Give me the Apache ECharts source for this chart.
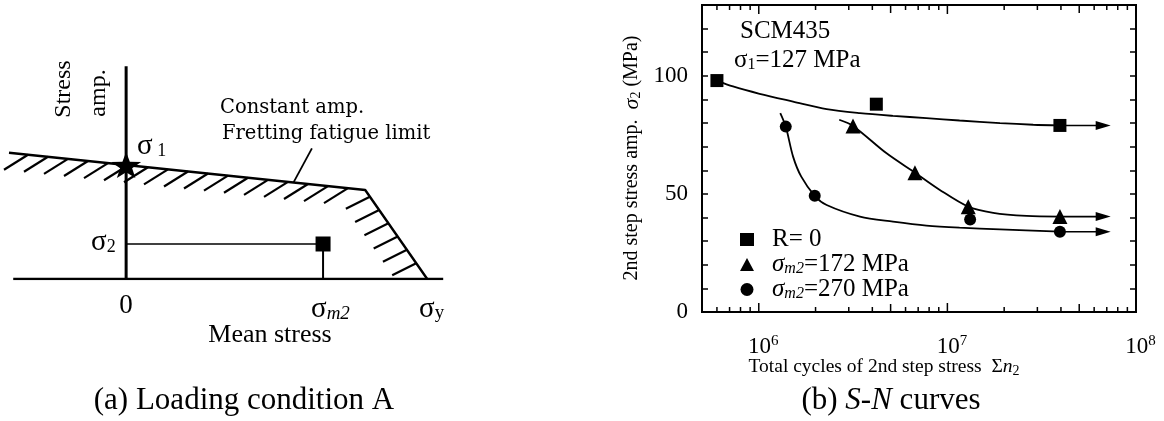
<!DOCTYPE html>
<html><head><meta charset="utf-8">
<script src="https://cdn.jsdelivr.net/npm/echarts@6/dist/echarts.min.js"></script>
<style>html,body{margin:0;padding:0;background:#fff}#c{width:1164px;height:421px}</style>
</head><body><div id="c"></div>
<script>
// ================= Panel (b): S-N curves =================
// measured points
const cyclesR0   = [6.0e5, 4.2e6, 3.95e7];
const ampR0      = [98, 88, 79];
const cyclesM172 = [3.16e6, 6.73e6, 1.29e7, 3.95e7];
const ampM172    = [78.8, 59, 44.6, 40.4];
const cyclesM270 = [1.39e6, 1.98e6, 1.32e7, 3.95e7];
const ampM270    = [78.5, 49.2, 39.2, 34];
// fitted curves
const curveR0N   = [6.0e5, 7.3e5, 1.01e6, 1.52e6, 2.29e6, 3.44e6, 5.15e6, 7.74e6, 1.16e7, 1.9e7, 2.85e7, 3.95e7];
const curveR0S   = [98, 95.5, 92.4, 89.1, 85.9, 84.2, 83.05, 82.1, 81.1, 80.0, 79.3, 79];
const curveM172N = [2.67e6, 3.16e6, 4.76e6, 6.73e6, 9.12e6, 1.29e7, 1.75e7, 2.63e7, 3.95e7];
const curveM172S = [81.4, 78.8, 67.2, 59.0, 51.7, 44.6, 42.0, 40.7, 40.4];
const curveM270N = [1.30e6, 1.39e6, 1.52e6, 1.68e6, 1.98e6, 2.29e6, 3.44e6, 5.15e6, 7.74e6, 1.16e7, 1.9e7, 3.95e7];
const curveM270S = [84.2, 78.5, 65.8, 57.3, 49.2, 45.3, 40.4, 38.3, 36.6, 35.7, 35.0, 34];
// run-out arrows
const arrowFromN = 3.95e7;
const arrowToN   = 6.7e7;
// axis ticks / labels
const xDecades    = [6, 7, 8];
const xMajorTicks = [1e6, 1e7];
const xHalfTicks  = [5e6, 5e7];
const xMinorTicks = [6e5,7e5,8e5,9e5, 2e6,3e6,4e6,6e6,7e6,8e6,9e6, 2e7,3e7,4e7,6e7,7e7,8e7,9e7];
const yLabelValues = [0, 50, 100];
const seriesNames = ['R= 0', 'σm2=172 MPa', 'σm2=270 MPa'];

// ================= Panel (a): loading condition schematic =================
const envelopeMean = [-38.9, 0, 79.4, 100];   // mean stress (σy = 100)
const envelopeAmp  = [140.7, 127, 99.2, 0];    // stress amplitude (σ1 = 127)
const sigma1Point  = [0, 127];
const sigma2Point  = [65.4, 39.0];
const meanAxisMean = [-37.5, 105.3];
const ampAxisAmp   = [0, 237];
const leaderMean   = [55.6, 61.7];
const leaderAmp    = [107.7, 145.6];

const SERIF = 'Liberation Serif';
const zip = (a, b) => a.map((v, i) => [v, b[i]]);

function txt(x, y, text, opt) {
  return Object.assign({type: 'text', x: x, y: y, silent: true,
    style: Object.assign({text: text, fill: '#000', fontFamily: SERIF, fontSize: 20,
      align: 'left', verticalAlign: 'middle'}, opt.style || {})},
    opt.extra || {});
}
const subRich = (size, sub, lh, italicSub) => ({
  s: {fontFamily: SERIF, fontSize: size, lineHeight: lh},
  sub: {fontFamily: SERIF, fontSize: sub, lineHeight: sub, verticalAlign: 'bottom', fontStyle: italicSub ? 'italic' : 'normal'}
});

const BLACK = {color: '#000', opacity: 1};
function curve(N, S) {
  return {type: 'line', xAxisIndex: 0, yAxisIndex: 0, data: zip(N, S), smooth: 0.3,
    showSymbol: false, symbol: 'none', lineStyle: {color: '#000', width: 1.8},
    itemStyle: BLACK, z: 3, silent: true};
}
function arrowShaft(level) {
  return {type: 'line', xAxisIndex: 0, yAxisIndex: 0, data: [[arrowFromN, level], [arrowToN, level]],
    showSymbol: false, symbol: 'none', lineStyle: {color: '#000', width: 1.6}, itemStyle: BLACK, z: 3, silent: true};
}
function markers(name, N, S, sym, size) {
  return {type: 'scatter', name: name, xAxisIndex: 0, yAxisIndex: 0, data: zip(N, S),
    symbol: sym, symbolSize: size, itemStyle: BLACK, z: 5, silent: true};
}
const endLevels = [ampR0[ampR0.length - 1], ampM172[ampM172.length - 1], ampM270[ampM270.length - 1]];

const tickData = [].concat(
  xMajorTicks.map(v => [v, 0, 9]),
  xHalfTicks.map(v => [v, 0, 8]),
  xMinorTicks.map(v => [v, 0, 5]));

const envSegments = envelopeMean.slice(0, -1).map((m, i) =>
  [m, envelopeAmp[i], envelopeMean[i + 1], envelopeAmp[i + 1]]);

const legendRich = {
  t: {fontFamily: SERIF, fontSize: 25, lineHeight: 25},
  i: {fontFamily: SERIF, fontSize: 25, lineHeight: 25, fontStyle: 'italic'},
  sub: {fontFamily: SERIF, fontSize: 16, lineHeight: 16, fontStyle: 'italic', verticalAlign: 'bottom'}
};

const option = {
  animation: false,
  backgroundColor: '#fff',
  textStyle: {fontFamily: SERIF, color: '#000'},
  grid: [
    {left: 702, top: 5, width: 434, height: 307, show: true, borderColor: '#000', borderWidth: 2,
     backgroundColor: 'transparent', containLabel: false, outerBoundsMode: 'none'},
    {left: 9, top: 66, width: 434.2, height: 213, containLabel: false, outerBoundsMode: 'none'}
  ],
  xAxis: [
    {gridIndex: 0, type: 'log', logBase: 10, min: 5e5, max: 1e8,
     axisLine: {show: false}, axisTick: {show: false}, axisLabel: {show: false},
     splitLine: {show: false}, minorTick: {show: false}, minorSplitLine: {show: false}},
    {gridIndex: 1, type: 'value', min: -38.9, max: 105.3, show: false}
  ],
  yAxis: [
    {gridIndex: 0, type: 'value', min: 0, max: 130, interval: 10,
     axisLine: {show: true, lineStyle: {color: '#000', width: 2}},
     axisTick: {show: true, inside: true, length: 6, lineStyle: {color: '#000', width: 1.5}},
     splitLine: {show: false},
     axisLabel: {margin: 14, fontSize: 23, fontFamily: SERIF, color: '#000',
       formatter: v => yLabelValues.indexOf(v) >= 0 ? String(v) : ''}},
    {gridIndex: 0, type: 'value', position: 'right', min: 0, max: 130, interval: 10,
     axisLine: {show: true, lineStyle: {color: '#000', width: 2}},
     axisTick: {show: true, inside: true, length: 6, lineStyle: {color: '#000', width: 1.5}},
     splitLine: {show: false}, axisLabel: {show: false}},
    {gridIndex: 1, type: 'value', min: 0, max: 237.3, show: false}
  ],
  legend: {
    orient: 'vertical', left: 735, top: 222, itemWidth: 14, itemHeight: 13, itemGap: 0,
    selectedMode: false, data: seriesNames, itemStyle: {opacity: 1},
    textStyle: {fontFamily: SERIF, fontSize: 25, color: '#000', lineHeight: 25, padding: [0, 0, 0, 13], rich: legendRich},
    formatter: function (n) {
      if (n.indexOf('σm2') === 0) return '{i|σ}{sub|m2}{t|' + n.slice(3) + '}';
      return '{t|' + n + '}';
    }
  },
  series: [
    // ---- panel (b) ----
    curve(curveR0N, curveR0S),
    curve(curveM172N, curveM172S),
    curve(curveM270N, curveM270S),
    arrowShaft(endLevels[0]), arrowShaft(endLevels[1]), arrowShaft(endLevels[2]),
    {type: 'scatter', xAxisIndex: 0, yAxisIndex: 0, data: endLevels.map(l => [arrowToN, l]),
     symbol: 'triangle', symbolSize: [9, 15], symbolRotate: -90, itemStyle: BLACK, z: 4, silent: true},
    markers(seriesNames[0], cyclesR0, ampR0, 'rect', 13),
    markers(seriesNames[1], cyclesM172, ampM172, 'triangle', 15),
    markers(seriesNames[2], cyclesM270, ampM270, 'circle', 12),
    {type: 'custom', xAxisIndex: 0, yAxisIndex: 0, data: tickData, encode: {x: 0, y: 1}, silent: true, z: 6,
     renderItem: function (params, api) {
       const v = api.value(0), len = api.value(2);
       const b = api.coord([v, 0]), t = api.coord([v, 130]);
       const st = {stroke: '#000', lineWidth: 1.5};
       return {type: 'group', children: [
         {type: 'line', shape: {x1: b[0], y1: b[1], x2: b[0], y2: b[1] - len}, style: st},
         {type: 'line', shape: {x1: t[0], y1: t[1], x2: t[0], y2: t[1] + len}, style: st}]};
     }},
    {type: 'custom', xAxisIndex: 0, yAxisIndex: 0, data: xDecades.map(e => [Math.pow(10, e), 0, e]),
     encode: {x: 0, y: 1}, silent: true, z: 6,
     renderItem: function (params, api) {
       const p = api.coord([api.value(0), 0]);
       return {type: 'text', x: p[0], y: p[1] + 22, style: {
         text: '{b|10}{s|' + api.value(2) + '}', align: 'center', verticalAlign: 'top', fill: '#000',
         rich: {b: {fontFamily: SERIF, fontSize: 23, lineHeight: 26, padding: [0, 0, 0, 9]},
                s: {fontFamily: SERIF, fontSize: 15, lineHeight: 15, verticalAlign: 'top'}}}};
     }},
    // ---- panel (a) ----
    {type: 'line', xAxisIndex: 1, yAxisIndex: 2, data: zip(meanAxisMean, [0, 0]), showSymbol: false,
     symbol: 'none', lineStyle: {color: '#000', width: 2.6}, silent: true, z: 2},
    {type: 'line', xAxisIndex: 1, yAxisIndex: 2, data: zip([0, 0], ampAxisAmp), showSymbol: false,
     symbol: 'none', lineStyle: {color: '#000', width: 3}, silent: true, z: 2},
    {type: 'line', xAxisIndex: 1, yAxisIndex: 2, data: zip(envelopeMean, envelopeAmp), showSymbol: false,
     symbol: 'none', lineStyle: {color: '#000', width: 2.4}, silent: true, z: 3},
    {type: 'custom', xAxisIndex: 1, yAxisIndex: 2, data: envSegments, encode: {x: [0, 2], y: [1, 3]}, silent: true, z: 3,
     renderItem: function (params, api) {
       const p0 = api.coord([api.value(0), api.value(1)]);
       const p1 = api.coord([api.value(2), api.value(3)]);
       const origin = api.coord([envelopeMean[0], envelopeAmp[0]])[0] + 19;
       const dx = p1[0] - p0[0], dy = p1[1] - p0[1];
       const ch = [], st = {stroke: '#000', lineWidth: 2.2};
       if (Math.abs(dx) > Math.abs(dy)) {
         for (let x = origin; x <= p1[0] - 12; x += 20) {
           if (x < p0[0]) continue;
           const y = p0[1] + (x - p0[0]) / dx * dy;
           ch.push({type: 'line', shape: {x1: x, y1: y, x2: x - 24, y2: y + 15}, style: st});
         }
       } else {
         for (let y = p0[1] + 6.7; y <= p1[1] - 12; y += 13.3) {
           const x = p0[0] + (y - p0[1]) / dy * dx;
           ch.push({type: 'line', shape: {x1: x, y1: y, x2: x - 24, y2: y + 12}, style: st});
         }
       }
       return {type: 'group', children: ch};
     }},
    {type: 'line', xAxisIndex: 1, yAxisIndex: 2, data: zip(leaderMean, leaderAmp), showSymbol: false,
     symbol: 'none', lineStyle: {color: '#000', width: 1.8}, silent: true, z: 3},
    {type: 'line', xAxisIndex: 1, yAxisIndex: 2, data: [[0, sigma2Point[1]], sigma2Point], showSymbol: false,
     symbol: 'none', lineStyle: {color: '#000', width: 1.5}, silent: true, z: 3},
    {type: 'line', xAxisIndex: 1, yAxisIndex: 2, data: [sigma2Point, [sigma2Point[0], 0]], showSymbol: false,
     symbol: 'none', lineStyle: {color: '#000', width: 2}, silent: true, z: 3},
    {type: 'scatter', xAxisIndex: 1, yAxisIndex: 2, data: [sigma2Point], symbol: 'rect', symbolSize: 15,
     itemStyle: BLACK, silent: true, z: 5},
    {type: 'scatter', xAxisIndex: 1, yAxisIndex: 2, data: [sigma1Point],
     symbol: 'path://M0,-10L2.35,-3.24L9.51,-3.09L3.8,1.24L5.88,8.09L0,4L-5.88,8.09L-3.8,1.24L-9.51,-3.09L-2.35,-3.24Z',
     symbolSize: [30, 26], itemStyle: BLACK, silent: true, z: 5}
  ],
  graphic: [
    // panel (a) texts
    txt(64, 89, 'Stress', {style: {fontSize: 24, align: 'center'}, extra: {rotation: Math.PI / 2}}),
    txt(99, 93, 'amp.', {style: {fontSize: 24, align: 'center'}, extra: {rotation: Math.PI / 2}}),
    txt(137, 146, '{s|σ}{sub| 1}', {style: {rich: subRich(29, 18, 28, false)}}),
    txt(220, 108, 'Constant amp.', {style: {fontFamily: 'DejaVu Serif', fontSize: 19.5}}),
    txt(222, 134, 'Fretting fatigue limit', {style: {fontFamily: 'DejaVu Serif', fontSize: 19.5}}),
    txt(91, 242, '{s|σ}{sub|2}', {style: {rich: subRich(29, 18, 28, false)}}),
    txt(126, 306, '0', {style: {fontSize: 27, align: 'center'}}),
    txt(311, 309, '{s|σ}{sub|m2}', {style: {rich: subRich(29, 19, 28, true)}}),
    txt(419, 309, '{s|σ}{sub|y}', {style: {rich: subRich(29, 19, 28, false)}}),
    txt(270, 335, 'Mean stress', {style: {fontSize: 26, align: 'center'}}),
    txt(244, 401, '(a) Loading condition A', {style: {fontSize: 31, align: 'center'}}),
    // panel (b) texts
    txt(740, 31, 'SCM435', {style: {fontSize: 25}}),
    txt(734, 60, '{s|σ}{sub|1}{s|=127 MPa}', {style: {rich: subRich(25, 16, 26, false)}}),
    txt(632, 158, '{t|2nd step stress amp.  }{i|σ}{sub|2}{t| (MPa)}', {style: {align: 'center', rich: {
      t: {fontFamily: SERIF, fontSize: 20, lineHeight: 22},
      i: {fontFamily: SERIF, fontSize: 22, lineHeight: 22, fontStyle: 'italic'},
      sub: {fontFamily: SERIF, fontSize: 14, lineHeight: 14, verticalAlign: 'bottom'}}}, extra: {rotation: Math.PI / 2}}),
    txt(884, 367, '{t|Total cycles of 2nd step stress  Σ}{i|n}{sub|2}', {style: {align: 'center', rich: {
      t: {fontFamily: SERIF, fontSize: 19.5, lineHeight: 22},
      i: {fontFamily: SERIF, fontSize: 19.5, lineHeight: 22, fontStyle: 'italic'},
      sub: {fontFamily: SERIF, fontSize: 14, lineHeight: 14, verticalAlign: 'bottom'}}}}),
    txt(891, 401, '{t|(b) }{i|S}{t|-}{i|N}{t| curves}', {style: {align: 'center', rich: {
      t: {fontFamily: SERIF, fontSize: 31, lineHeight: 34},
      i: {fontFamily: SERIF, fontSize: 31, lineHeight: 34, fontStyle: 'italic'}}}})
  ]
};

const chart = echarts.init(document.getElementById('c'));
chart.setOption(option);
</script>
</body></html>
